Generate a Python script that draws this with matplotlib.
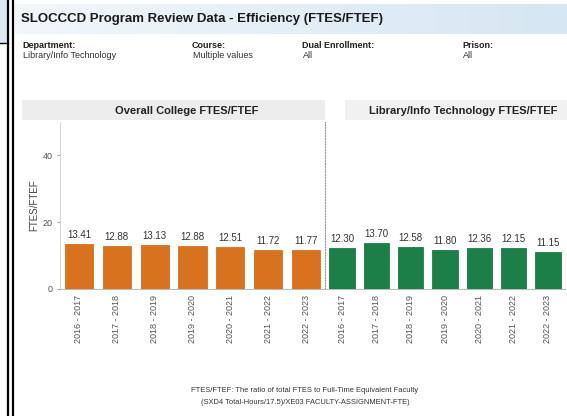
"""Recreate the SLOCCCD FTES/FTEF dashboard snapshot."""

import matplotlib.pyplot as plt
import numpy as np
from matplotlib.colors import LinearSegmentedColormap
from matplotlib.patches import Rectangle

years = [
    "2016 - 2017",
    "2017 - 2018",
    "2018 - 2019",
    "2019 - 2020",
    "2020 - 2021",
    "2021 - 2022",
    "2022 - 2023",
]
college_values = [13.41, 12.88, 13.13, 12.88, 12.51, 11.72, 11.77]
program_values = [12.30, 13.70, 12.58, 11.80, 12.36, 12.15, 11.15]
y_ticks = [0, 20, 40]

ORANGE = "#d8721e"
GREEN = "#1d7f48"
W, H = 567, 416

plt.rcParams["font.family"] = ["Liberation Sans", "DejaVu Sans"]


def fx(px):
    return px / W


def fy(py):
    return 1 - py / H


fig = plt.figure(figsize=(W / 100, H / 100), dpi=100)
fig.patch.set_facecolor("white")

# title bar with light blue gradient
bar_ax = fig.add_axes([fx(15), fy(34), fx(567 - 15), 30 / H])
grad = np.linspace(0, 1, 100).reshape(1, -1)
cmap = LinearSegmentedColormap.from_list("tb", ["#f2f7fb", "#d6e6f2"])
bar_ax.imshow(grad, aspect="auto", cmap=cmap, extent=[0, 1, 0, 1])
bar_ax.axis("off")
fig.text(fx(21), fy(19), "SLOCCCD Program Review Data - Efficiency (FTES/FTEF)",
         fontsize=9.5, fontweight="bold", color="#1a1a1a", va="center")

# filter fields
fields = [
    (22, "Department:", "Library/Info Technology"),
    (192, "Course:", "Multiple values"),
    (302, "Dual Enrollment:", "All"),
    (462, "Prison:", "All"),
]
for x, label, value in fields:
    fig.text(fx(x), fy(45), label, fontsize=6.5, fontweight="bold", color="#222222", va="center")
    fig.text(fx(x + 1), fy(56), value, fontsize=6.5, color="#333333", va="center")

# left border strips
fig.patches.append(Rectangle((0, fy(43)), fx(8), 43 / H, transform=fig.transFigure,
                             facecolor="#dce9f3", edgecolor="none"))
for x in (8, 13):
    fig.add_artist(plt.Line2D([fx(x), fx(x)], [0, 1], color="black", lw=1.6))
fig.add_artist(plt.Line2D([0, fx(8)], [fy(43), fy(43)], color="black", lw=1.0))

# panel header bands
fig.patches.append(Rectangle((fx(22), fy(120)), fx(303), 20 / H, transform=fig.transFigure,
                             facecolor="#ededed", edgecolor="none"))
fig.patches.append(Rectangle((fx(345), fy(120)), fx(222), 20 / H, transform=fig.transFigure,
                             facecolor="#f1f1f1", edgecolor="none"))
fig.text(fx(187), fy(111), "Overall College FTES/FTEF", fontsize=8, fontweight="bold",
         ha="center", va="center", color="#222222")
fig.text(fx(463), fy(111), "Library/Info Technology FTES/FTEF", fontsize=8,
         fontweight="bold", ha="center", va="center", color="#222222")

panels = [
    ([fx(60), fy(289), fx(265), 167 / H], college_values, ORANGE),
    ([fx(325), fy(289), fx(240), 167 / H], program_values, GREEN),
]
x = np.arange(len(years))
for i, (rect, values, color) in enumerate(panels):
    ax = fig.add_axes(rect)
    ax.bar(x, values, width=0.74, color=color, edgecolor=color, linewidth=0.6)
    for xi, v in zip(x, values):
        ax.text(xi, v + 1.2, f"{v:.2f}", ha="center", va="bottom", fontsize=7, color="#333333")
    ax.set_xlim(-0.5, len(years) - 0.5)
    ax.set_ylim(0, 50)
    ax.set_xticks(x)
    ax.set_xticklabels(years, rotation=90, fontsize=6.5, color="#555555")
    ax.tick_params(axis="x", length=0, pad=4)
    for side in ("top", "right"):
        ax.spines[side].set_visible(False)
    ax.spines["bottom"].set_color("#b0b0b0")
    ax.spines["bottom"].set_linewidth(0.6)
    if i == 0:
        ax.set_yticks(y_ticks)
        ax.set_yticklabels([str(t) for t in y_ticks], fontsize=6.5, color="#555555")
        ax.tick_params(axis="y", length=2, color="#aaaaaa", pad=3)
        ax.spines["left"].set_color("#d0d0d0")
        ax.spines["left"].set_linewidth(0.6)
        ax.set_ylabel("FTES/FTEF", fontsize=7, color="#444444", labelpad=3)
    else:
        ax.set_yticks([])
        ax.spines["left"].set_color("#999999")
        ax.spines["left"].set_linestyle((0, (1, 1.5)))
        ax.spines["left"].set_linewidth(0.8)

fig.text(fx(305), fy(390), "FTES/FTEF: The ratio of total FTES to Full-Time Equivalent Faculty",
         fontsize=5.4, ha="center", va="center", color="#333333")
fig.text(fx(305), fy(403), "(SXD4 Total-Hours/17.5)/XE03 FACULTY-ASSIGNMENT-FTE)",
         fontsize=5.4, ha="center", va="center", color="#333333")

fig.savefig("out.png", dpi=100)
